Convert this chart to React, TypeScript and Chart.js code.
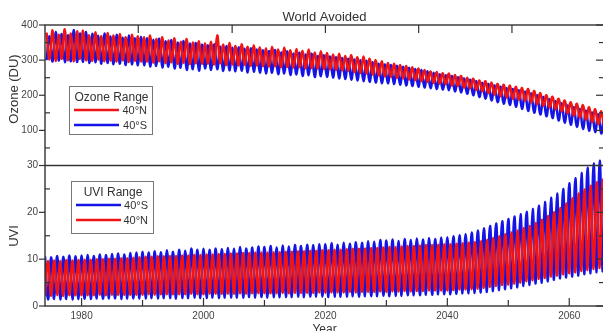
import React, { useEffect, useRef } from "react";
import { Chart, registerables } from "chart.js";

Chart.register(...registerables);

// ---- data: one value per year, 1974 .. 2066 ----
const START_YEAR = 1974;

// Ozone (DU) 40°N — yearly spring maximum / autumn minimum
const ozoneNMax = [
  378, 385, 372, 388, 376, 382,
  384, 371, 379, 368, 377, 370, 374, 365, 372, 368,
  366, 370, 360, 365, 356, 362, 352, 360, 350, 354,
  348, 352, 371, 344, 349, 340, 345, 338, 342, 336,
  334, 338, 330, 336, 328, 332, 326, 330, 322, 325,
  320, 316, 318, 312, 314, 308, 310, 304, 300, 297,
  292, 290, 286, 283, 280, 276, 272, 268, 266, 263,
  262, 258, 255, 250, 247, 242, 240, 236, 232, 230,
  228, 224, 221, 218, 212, 206, 200, 196, 190, 185,
  180, 176, 172, 166, 160, 154, 148,
];
const ozoneNMin = [
  302, 298, 304, 300, 297, 303,
  300, 298, 302, 297, 299, 296, 300, 295, 298, 296,
  296, 293, 297, 292, 294, 290, 293, 289, 291, 290,
  290, 288, 291, 286, 288, 285, 287, 284, 285, 283,
  282, 283, 280, 281, 279, 280, 277, 278, 276, 275,
  274, 272, 271, 269, 266, 263, 262, 259, 256, 254,
  252, 250, 248, 245, 243, 240, 238, 235, 233, 231,
  228, 226, 222, 219, 215, 211, 206, 202, 197, 193,
  190, 187, 184, 180, 175, 170, 165, 160, 154, 148,
  142, 136, 130, 124, 118, 112, 106,
];
// Ozone (DU) 40°S
const ozoneSMax = [
  368, 380, 374, 371, 386, 376,
  380, 375, 369, 376, 367, 372, 364, 370, 362, 366,
  362, 358, 361, 354, 357, 350, 354, 347, 349, 344,
  342, 345, 338, 340, 335, 337, 332, 334, 330, 328,
  326, 329, 322, 325, 319, 321, 316, 318, 312, 314,
  310, 308, 306, 304, 302, 300, 298, 294, 290, 288,
  286, 284, 281, 278, 275, 272, 268, 264, 260, 257,
  255, 251, 248, 244, 240, 235, 232, 228, 224, 220,
  218, 214, 210, 205, 200, 195, 189, 183, 177, 171,
  166, 161, 156, 151, 146, 141, 136,
];
const ozoneSMin = [
  300, 296, 299, 294, 297, 295,
  295, 292, 294, 290, 292, 288, 290, 286, 288, 285,
  285, 282, 283, 279, 281, 276, 278, 272, 274, 270,
  276, 272, 274, 269, 271, 268, 270, 265, 267, 264,
  262, 264, 260, 262, 258, 259, 255, 257, 252, 254,
  252, 250, 248, 246, 244, 242, 240, 238, 236, 234,
  234, 232, 230, 228, 226, 224, 222, 220, 218, 216,
  214, 211, 208, 204, 200, 195, 190, 185, 180, 176,
  172, 167, 161, 155, 150, 145, 140, 135, 128, 122,
  116, 110, 104, 99, 95, 91, 87,
];

// UVI 40°S — yearly summer maximum / winter minimum
const uviSMax = [
  10.6, 10.4, 10.7, 10.5, 10.8, 10.6,
  10.8, 10.9, 10.7, 11.0, 10.9, 11.1, 11.2, 11.0, 11.3, 11.4,
  11.6, 11.4, 11.7, 11.5, 11.9, 11.6, 12.0, 11.8, 12.3, 12.0,
  12.2, 12.0, 12.3, 12.1, 12.4, 12.2, 12.6, 12.3, 12.5, 12.7,
  12.6, 12.8, 12.5, 12.9, 12.7, 13.0, 12.8, 13.1, 13.0, 13.2,
  13.2, 13.4, 13.1, 13.5, 13.3, 13.6, 13.5, 13.8, 13.7, 14.1,
  14.0, 14.2, 13.9, 14.3, 14.1, 14.4, 14.2, 14.5, 14.3, 14.6,
  14.7, 14.9, 15.1, 15.4, 15.7, 16.1, 16.6, 17.1, 17.6, 18.1,
  18.6, 19.1, 19.6, 20.1, 20.7, 21.4, 22.2, 23.1, 24.0, 25.0,
  26.2, 27.3, 28.4, 29.5, 30.4, 31.0, 31.3,
];
const uviSMin = [
  1.4, 1.5, 1.4, 1.5, 1.4, 1.5,
  1.5, 1.5, 1.6, 1.5, 1.6, 1.6, 1.5, 1.6, 1.6, 1.6,
  1.6, 1.7, 1.6, 1.7, 1.7, 1.6, 1.7, 1.7, 1.8, 1.7,
  1.7, 1.8, 1.7, 1.8, 1.8, 1.8, 1.8, 1.9, 1.8, 1.9,
  1.8, 1.9, 1.9, 1.9, 1.9, 2.0, 1.9, 2.0, 2.0, 2.0,
  1.9, 2.0, 2.0, 2.0, 2.1, 2.0, 2.1, 2.1, 2.1, 2.2,
  2.1, 2.2, 2.2, 2.3, 2.3, 2.3, 2.4, 2.4, 2.5, 2.5,
  2.5, 2.6, 2.7, 2.7, 2.8, 2.9, 3.0, 3.2, 3.4, 3.6,
  3.8, 4.0, 4.3, 4.5, 4.8, 5.0, 5.3, 5.6, 5.9, 6.1,
  6.3, 6.5, 6.8, 7.0, 7.2, 7.4, 7.6,
];
// UVI 40°N
const uviNMax = [
  9.6, 9.7, 9.6, 9.8, 9.7, 9.8,
  9.9, 9.9, 10.0, 10.0, 10.1, 10.1, 10.2, 10.2, 10.3, 10.4,
  10.5, 10.5, 10.6, 10.6, 10.7, 10.7, 10.8, 10.8, 10.9, 10.9,
  11.0, 11.0, 11.1, 11.1, 11.2, 11.2, 11.3, 11.3, 11.4, 11.4,
  11.4, 11.5, 11.5, 11.6, 11.6, 11.7, 11.7, 11.8, 11.8, 11.9,
  11.9, 12.0, 12.0, 12.1, 12.2, 12.2, 12.3, 12.4, 12.4, 12.5,
  12.6, 12.6, 12.7, 12.8, 12.8, 12.9, 13.0, 13.0, 13.1, 13.2,
  13.2, 13.3, 13.4, 13.5, 13.6, 13.8, 14.1, 14.5, 14.9, 15.3,
  15.7, 16.1, 16.6, 17.1, 17.7, 18.4, 19.2, 20.0, 20.9, 21.9,
  23.0, 24.0, 24.9, 25.7, 26.4, 27.0, 27.5,
];
const uviNMin = [
  2.2, 2.2, 2.3, 2.2, 2.3, 2.3,
  2.3, 2.3, 2.3, 2.4, 2.3, 2.4, 2.4, 2.4, 2.4, 2.4,
  2.4, 2.5, 2.4, 2.5, 2.5, 2.5, 2.5, 2.5, 2.6, 2.5,
  2.5, 2.6, 2.6, 2.6, 2.6, 2.6, 2.7, 2.6, 2.7, 2.7,
  2.7, 2.7, 2.7, 2.8, 2.7, 2.8, 2.8, 2.8, 2.8, 2.9,
  2.8, 2.9, 2.9, 2.9, 3.0, 2.9, 3.0, 3.0, 3.0, 3.1,
  3.0, 3.1, 3.1, 3.2, 3.1, 3.2, 3.2, 3.3, 3.3, 3.3,
  3.3, 3.4, 3.5, 3.5, 3.6, 3.7, 3.9, 4.1, 4.3, 4.5,
  4.6, 4.8, 5.0, 5.3, 5.5, 5.8, 6.0, 6.3, 6.5, 6.8,
  7.0, 7.2, 7.5, 7.7, 7.9, 8.1, 8.3,
];

// ---- axes / ticks ----
const X_MIN = 1974;
const X_MAX = 2065.7;
const xTickYears = [1980, 2000, 2020, 2040, 2060];
const xMinorYears = [1990, 2010, 2030, 2050];
const topTickYears = [1989.3, 2004.7, 2020, 2035.3, 2050.6];
const ozoneTicks = [100, 200, 300, 400];
const ozoneMinor = [50, 150, 250, 350];
const uviTicks = [0, 10, 20, 30];
const uviMinor = [5, 15, 25];

const RED = "#f01414";
const BLUE = "#1414e6";
const FONT = "'Liberation Sans', Arial, sans-serif";
const TEXT = "#444";

type Pt = { x: number; y: number };
// seasonal phase (fraction of year) of the yearly high and low
function buildSeries(highs: number[], lows: number[], highPhase: number, lowPhase: number): Pt[] {
  const pts: Pt[] = [];
  highs.forEach((h, i) => {
    const yr = START_YEAR + i;
    const a = { x: yr + highPhase, y: h };
    const b = { x: yr + lowPhase, y: lows[i] };
    if (highPhase < lowPhase) pts.push(a, b);
    else pts.push(b, a);
  });
  return pts;
}

const decorPlugin = {
  id: "decor",
  afterDraw(chart: any) {
    const { ctx, chartArea: ca, scales } = chart;
    const x = scales.x;
    const yO = scales.yO;
    const yU = scales.yU;
    ctx.save();
    ctx.strokeStyle = "#333";
    ctx.lineWidth = 1.4;
    const line = (x1: number, y1: number, x2: number, y2: number) => {
      ctx.beginPath();
      ctx.moveTo(x1, y1);
      ctx.lineTo(x2, y2);
      ctx.stroke();
    };
    // frame + separator
    ctx.strokeRect(ca.left, ca.top, ca.right - ca.left, ca.bottom - ca.top);
    line(ca.left, yO.bottom, ca.right, yO.bottom);

    ctx.lineWidth = 1.2;
    // left / right ticks
    ozoneTicks.forEach((v) => {
      const p = yO.getPixelForValue(v);
      line(ca.left - 6, p, ca.left, p);
      line(ca.right - 8, p, ca.right, p);
    });
    ozoneMinor.forEach((v) => {
      const p = yO.getPixelForValue(v);
      line(ca.left, p, ca.left + 5, p);
      line(ca.right - 5, p, ca.right, p);
    });
    uviTicks.forEach((v) => {
      const p = yU.getPixelForValue(v);
      line(ca.left - 6, p, ca.left, p);
      line(ca.right - 8, p, ca.right, p);
    });
    uviMinor.forEach((v) => {
      const p = yU.getPixelForValue(v);
      line(ca.left, p, ca.left + 5, p);
      line(ca.right - 5, p, ca.right, p);
    });
    // bottom ticks (inward)
    xTickYears.forEach((v) => {
      const p = x.getPixelForValue(v);
      line(p, ca.bottom, p, ca.bottom - 8);
    });
    xMinorYears.forEach((v) => {
      const p = x.getPixelForValue(v);
      line(p, ca.bottom, p, ca.bottom - 6);
    });
    // top ticks of upper panel
    topTickYears.forEach((v) => {
      const p = x.getPixelForValue(v);
      line(p, ca.top, p, ca.top + 8);
    });

    // titles
    ctx.fillStyle = "#333";
    ctx.textAlign = "center";
    ctx.textBaseline = "middle";
    ctx.font = `13px ${FONT}`;
    ctx.fillText("World Avoided", (ca.left + ca.right) / 2, 17);
    ctx.font = `12px ${FONT}`;
    ctx.textBaseline = "alphabetic";
    ctx.fillText("Year", (ca.left + ca.right) / 2, 333);

    ctx.font = `13px ${FONT}`;
    ctx.textBaseline = "middle";
    ctx.save();
    ctx.translate(14, 89);
    ctx.rotate(-Math.PI / 2);
    ctx.fillText("Ozone (DU)", 0, 0);
    ctx.restore();
    ctx.save();
    ctx.translate(14, 236);
    ctx.rotate(-Math.PI / 2);
    ctx.fillText("UVI", 0, 0);
    ctx.restore();

    // legends
    const legend = (
      bx: number, by: number, bw: number, bh: number,
      title: string, items: { label: string; color: string }[]
    ) => {
      ctx.fillStyle = "#fff";
      ctx.fillRect(bx, by, bw, bh);
      ctx.strokeStyle = "#777";
      ctx.lineWidth = 1;
      ctx.strokeRect(bx + 0.5, by + 0.5, bw, bh);
      ctx.fillStyle = "#333";
      ctx.textAlign = "center";
      ctx.textBaseline = "middle";
      ctx.font = `12px ${FONT}`;
      ctx.fillText(title, bx + bw / 2 + 1, by + 12);
      items.forEach((it, i) => {
        const yy = by + 24 + i * 15;
        ctx.strokeStyle = it.color;
        ctx.lineWidth = 2.5;
        line(bx + 5, yy, bx + 50, yy);
        ctx.fillStyle = "#333";
        ctx.textAlign = "right";
        ctx.font = `11px ${FONT}`;
        ctx.fillText(it.label, bx + bw - 5, yy + 1);
      });
    };
    legend(69, 86, 83, 48, "Ozone Range", [
      { label: "40°N", color: RED },
      { label: "40°S", color: BLUE },
    ]);
    legend(71, 181, 82, 52, "UVI Range", [
      { label: "40°S", color: BLUE },
      { label: "40°N", color: RED },
    ]);
    ctx.restore();
  },
};

export default function App() {
  const ref = useRef<HTMLCanvasElement | null>(null);
  useEffect(() => {
    if (!ref.current) return;
    const ds = (data: Pt[], color: string, yAxisID: string, clipTop: number) => ({
      data,
      borderColor: color,
      backgroundColor: color,
      borderWidth: 2.5,
      pointRadius: 0,
      tension: 0.4,
      fill: false,
      xAxisID: "x",
      yAxisID,
      clip: { left: 0, right: 0, top: clipTop, bottom: 0 },
    });
    const chart = new Chart(ref.current, {
      type: "line",
      data: {
        datasets: [
          ds(buildSeries(ozoneNMax, ozoneNMin, 0.25, 0.75), RED, "yO", 0) as any,
          ds(buildSeries(ozoneSMax, ozoneSMin, 0.75, 0.25), BLUE, "yO", 0) as any,
          ds(buildSeries(uviNMax, uviNMin, 0.5, 0.0), RED, "yU", 8) as any,
          ds(buildSeries(uviSMax, uviSMin, 0.0, 0.5), BLUE, "yU", 8) as any,
        ],
      },
      options: {
        responsive: false,
        animation: false,
        devicePixelRatio: 1,
        layout: { padding: { left: 0, right: 8, top: 25, bottom: 0 } },
        plugins: { legend: { display: false }, tooltip: { enabled: false } },
        scales: {
          x: {
            type: "linear",
            position: "bottom",
            min: X_MIN,
            max: X_MAX,
            grid: { display: false, drawTicks: false },
            border: { display: false },
            afterBuildTicks: (s: any) => {
              s.ticks = xTickYears.map((v) => ({ value: v }));
            },
            afterFit: (s: any) => {
              s.height = 25;
            },
            ticks: {
              font: { size: 10, family: FONT },
              color: TEXT,
              padding: 4,
              maxRotation: 0,
              callback: (v: any) => String(v),
            },
          },
          yU: {
            type: "linear",
            position: "left",
            stack: "panels",
            stackWeight: 1,
            weight: 1,
            min: 0,
            max: 30,
            grid: { display: false, drawTicks: false },
            border: { display: false },
            afterBuildTicks: (s: any) => {
              s.ticks = uviTicks.map((v) => ({ value: v }));
            },
            afterFit: (s: any) => {
              s.width = 45;
            },
            ticks: { font: { size: 10, family: FONT }, color: TEXT, padding: 7 },
          },
          yO: {
            type: "linear",
            position: "left",
            stack: "panels",
            stackWeight: 1,
            weight: 2,
            min: 0,
            max: 400,
            grid: { display: false, drawTicks: false },
            border: { display: false },
            afterBuildTicks: (s: any) => {
              s.ticks = ozoneTicks.map((v) => ({ value: v }));
            },
            afterFit: (s: any) => {
              s.width = 45;
            },
            ticks: { font: { size: 10, family: FONT }, color: TEXT, padding: 7 },
          },
        },
      } as any,
      plugins: [decorPlugin],
    });
    return () => chart.destroy();
  }, []);

  return (
    <div style={{ position: "absolute", left: 0, top: 0, width: 603, height: 331, overflow: "hidden", background: "#fff" }}>
      <canvas ref={ref} width={612} height={331} style={{ display: "block", width: 612, height: 331 }} />
    </div>
  );
}
